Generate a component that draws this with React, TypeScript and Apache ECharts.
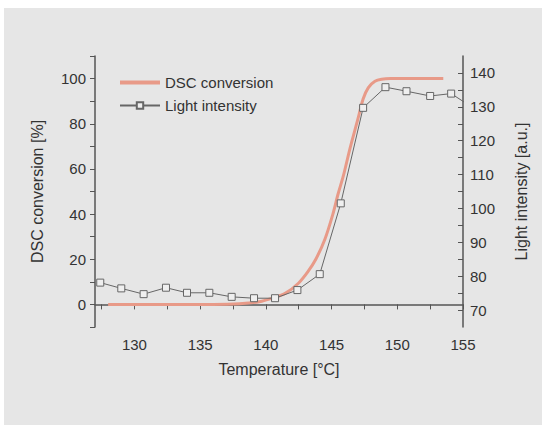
import React, { useEffect, useRef } from "react";
import * as echarts from "echarts";

// DSC conversion curve (temperature °C, conversion %)
const dscTemp = [128, 130, 132, 134, 136, 138, 139.5, 140.5, 141.5, 142.5, 143.2, 143.8, 144.5, 145.1, 145.5, 145.9, 146.4, 147.0, 147.4, 147.8, 148.3, 148.8, 149.5, 151, 153.5];
const dscConv = [0, 0, 0, 0, 0, 0.3, 1.2, 2.8, 5, 9.5, 14.5, 20, 29, 40, 49, 57, 69, 82, 91, 96, 98.8, 99.7, 100, 100, 100];

// Light intensity (temperature °C, a.u.)
const lightTemp = [127.4, 129.0, 130.7, 132.4, 134.0, 135.7, 137.4, 139.1, 140.7, 142.4, 144.1, 145.7, 147.4, 149.1, 150.7, 152.5, 154.1, 155.8];
const lightInt = [78.1, 76.4, 74.7, 76.6, 75.1, 75.1, 73.9, 73.5, 73.5, 75.9, 80.6, 101.5, 129.7, 135.8, 134.6, 133.2, 133.9, 129.6];

// Axis ticks and labels
const xLabels = [130, 135, 140, 145, 150, 155];
const xTicks = [127.5, 130, 132.5, 135, 137.5, 140, 142.5, 145, 147.5, 150, 152.5, 155];
const yLeftLabels = [0, 20, 40, 60, 80, 100];
const yLeftTicks = [-10, 0, 10, 20, 30, 40, 50, 60, 70, 80, 90, 100, 110];
const yRightLabels = [70, 80, 90, 100, 110, 120, 130, 140];
const yRightTicks = [70, 75, 80, 85, 90, 95, 100, 105, 110, 115, 120, 125, 130, 135, 140];

const seriesNames = ["DSC conversion", "Light intensity"];

const AXIS = "#555555";
const TEXT = "#333333";
const FONT = "'Liberation Sans', Arial, sans-serif";
const DSC_COLOR = "#e89a88";
const LIGHT_COLOR = "#666666";

export default function App() {
  const ref = useRef<HTMLDivElement>(null);
  useEffect(() => {
    if (!ref.current) return;
    const chart = echarts.init(ref.current, undefined, { renderer: "svg" });
    const axisCommon = {
      axisLine: { show: true, lineStyle: { color: AXIS, width: 1.5 } },
      splitLine: { show: false },
      nameTextStyle: { color: TEXT, fontSize: 16, fontFamily: FONT },
    };
    chart.setOption({
      animation: false,
      backgroundColor: "transparent",
      textStyle: { fontFamily: FONT },
      grid: { left: 95, right: 79, top: 56, bottom: 98, containLabel: false },
      legend: {
        data: [
          { name: seriesNames[0], icon: "path://M0,0 L40,0 L40,4 L0,4 Z", itemStyle: { color: DSC_COLOR } },
          { name: seriesNames[1] },
        ],
        orient: "vertical",
        left: 114,
        top: 70,
        itemWidth: 40,
        itemHeight: 8,
        itemGap: 8,
        textStyle: { color: TEXT, fontSize: 15, fontFamily: FONT },
      },
      xAxis: {
        type: "value",
        min: 127,
        max: 155,
        position: "bottom",
        ...axisCommon,
        name: "Temperature [°C]",
        nameLocation: "middle",
        nameGap: 34,
        axisTick: { show: true, customValues: xTicks, length: 5, lineStyle: { color: AXIS } },
        axisLabel: { customValues: xLabels, color: TEXT, fontSize: 15, margin: 10, fontFamily: FONT },
      },
      yAxis: [
        {
          type: "value",
          min: -10,
          max: 110,
          interval: 10,
          position: "left",
          ...axisCommon,
          name: "DSC conversion [%]",
          nameLocation: "middle",
          nameGap: 50,
          axisTick: { show: true, customValues: yLeftTicks, length: 5, lineStyle: { color: AXIS } },
          axisLabel: { customValues: yLeftLabels, color: TEXT, fontSize: 15, margin: 9, fontFamily: FONT },
        },
        {
          type: "value",
          min: 65,
          max: 145,
          interval: 5,
          position: "right",
          ...axisCommon,
          name: "Light intensity [a.u.]",
          nameLocation: "middle",
          nameRotate: 90,
          nameGap: 50,
          axisTick: { show: true, inside: true, customValues: yRightTicks, length: 5, lineStyle: { color: AXIS } },
          axisLabel: { customValues: yRightLabels, color: TEXT, fontSize: 15, margin: 7, fontFamily: FONT },
        },
      ],
      series: [
        {
          name: seriesNames[0],
          type: "line",
          xAxisIndex: 0,
          yAxisIndex: 0,
          data: dscTemp.map((t, i) => [t, dscConv[i]]),
          showSymbol: false,
          symbol: "none",
          smooth: 0.3,
          color: DSC_COLOR,
          lineStyle: { color: DSC_COLOR, width: 3 },
          z: 2,
        },
        {
          name: seriesNames[1],
          type: "line",
          xAxisIndex: 0,
          yAxisIndex: 1,
          data: lightTemp.map((t, i) => [t, lightInt[i]]),
          symbol: "rect",
          symbolSize: 7,
          color: LIGHT_COLOR,
          itemStyle: { color: "#efefef", borderColor: LIGHT_COLOR, borderWidth: 1 },
          lineStyle: { color: LIGHT_COLOR, width: 1 },
          z: 3,
        },
      ],
    });
    return () => chart.dispose();
  }, []);
  return (
    <div style={{ position: "fixed", left: 0, top: 0, width: 542, height: 425, background: "#ffffff" }}>
      <div style={{ position: "absolute", left: 4, top: 8, width: 538, height: 417, background: "#e6e6e6" }} />
      <div ref={ref} style={{ position: "absolute", left: 0, top: 0, width: 542, height: 425 }} />
    </div>
  );
}
